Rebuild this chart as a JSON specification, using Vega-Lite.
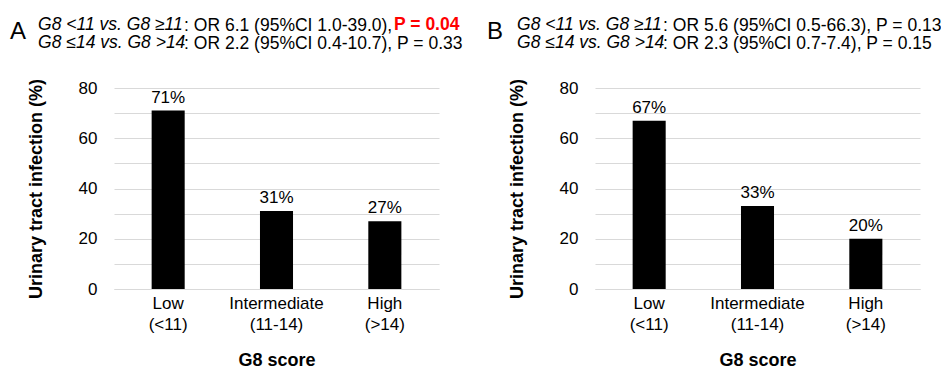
{
  "$schema": "https://vega.github.io/schema/vega-lite/v6.json",
  "padding": {"left": 10, "top": 15, "right": 5, "bottom": 0},
  "background": "white",
  "data": {"values": [
    {"panel": "A", "group": "Low (<11)", "value": 71},
    {"panel": "A", "group": "Intermediate (11-14)", "value": 31},
    {"panel": "A", "group": "High (>14)", "value": 27},
    {"panel": "B", "group": "Low (<11)", "value": 67},
    {"panel": "B", "group": "Intermediate (11-14)", "value": 33},
    {"panel": "B", "group": "High (>14)", "value": 20}
  ]},
  "spacing": 24,
  "hconcat": [
    {
      "title": {"text": "A", "anchor": "start", "frame": "bounds", "fontSize": 24, "fontWeight": "normal", "color": "black", "offset": 0, "dx": -17, "dy": 28},
      "vconcat": [{
        "title": {"text": "P = 0.04", "anchor": "start", "frame": "bounds", "fontSize": 17.5, "fontWeight": "bold", "color": "#ff0000", "offset": 0, "dx": 367, "dy": 17.5},
        "vconcat": [{
          "title": {"text": ": OR 6.1 (95%CI 1.0-39.0),", "subtitle": ": OR 2.2 (95%CI 0.4-10.7), P = 0.33", "anchor": "start", "frame": "bounds", "fontSize": 17.5, "subtitleFontSize": 17.5, "fontWeight": "normal", "fontStyle": "normal", "subtitleFontStyle": "normal", "color": "black", "subtitleColor": "black", "subtitlePadding": 0.5, "offset": 0, "dx": 157, "dy": 36.5},
          "vconcat": [{
            "width": 325, "height": 201,
            "title": {"text": "G8 <11 vs. G8 ≥11", "subtitle": "G8 ≤14 vs. G8 >14", "anchor": "start", "frame": "bounds", "fontSize": 17.5, "subtitleFontSize": 17.5, "fontWeight": "normal", "fontStyle": "italic", "subtitleFontStyle": "italic", "color": "black", "subtitleColor": "black", "subtitlePadding": 0.5, "offset": 27, "dx": 11},
            "transform": [{"filter": "datum.panel === 'A'"}, {"calculate": "datum.value + '%'", "as": "label"}],
            "encoding": {
              "x": {"field": "group", "type": "nominal", "sort": null, "scale": {"paddingInner": 0.695, "paddingOuter": 0.3475},
                "axis": {"title": "G8 score", "labelAngle": 0, "labelExpr": "split(datum.label, ' ')", "labelFontSize": 17, "labelLineHeight": 21, "labelPadding": 6, "labelColor": "black", "ticks": false, "tickSize": 0, "domainColor": "#d9d9d9", "titleFontSize": 18, "titleFontWeight": "bold", "titlePadding": 19, "titleColor": "black"}},
              "y": {"field": "value", "type": "quantitative", "scale": {"domain": [0, 80]},
                "axis": {"title": "Urinary tract infection (%)", "values": [0, 10, 20, 30, 40, 50, 60, 70, 80], "labelExpr": "datum.value % 20 === 0 ? datum.label : ''", "labelFontSize": 17, "labelColor": "black", "labelPadding": 17, "ticks": false, "tickSize": 0, "domain": false, "gridColor": "#d9d9d9", "titleFontSize": 18, "titleFontWeight": "bold", "titleColor": "black", "titlePadding": 33}}
            },
            "layer": [
              {"mark": {"type": "bar", "color": "black"}},
              {"mark": {"type": "text", "dy": -8, "baseline": "alphabetic", "fontSize": 17, "color": "black"}, "encoding": {"text": {"field": "label"}}}
            ]
          }]
        }]
      }]
    },
    {
      "title": {"text": "B", "anchor": "start", "frame": "bounds", "fontSize": 24, "fontWeight": "normal", "color": "black", "offset": 0, "dx": -21, "dy": 28},
      "vconcat": [{
        "title": {"text": ": OR 5.6 (95%CI 0.5-66.3), P = 0.13", "subtitle": ": OR 2.3 (95%CI 0.7-7.4), P = 0.15", "anchor": "start", "frame": "bounds", "fontSize": 17.5, "subtitleFontSize": 17.5, "fontWeight": "normal", "fontStyle": "normal", "subtitleFontStyle": "normal", "color": "black", "subtitleColor": "black", "subtitlePadding": 0.5, "offset": 0, "dx": 155, "dy": 36.5},
        "vconcat": [{
          "width": 325, "height": 201,
          "title": {"text": "G8 <11 vs. G8 ≥11", "subtitle": "G8 ≤14 vs. G8 >14", "anchor": "start", "frame": "bounds", "fontSize": 17.5, "subtitleFontSize": 17.5, "fontWeight": "normal", "fontStyle": "italic", "subtitleFontStyle": "italic", "color": "black", "subtitleColor": "black", "subtitlePadding": 0.5, "offset": 27, "dx": 9},
          "transform": [{"filter": "datum.panel === 'B'"}, {"calculate": "datum.value + '%'", "as": "label"}],
          "encoding": {
            "x": {"field": "group", "type": "nominal", "sort": null, "scale": {"paddingInner": 0.695, "paddingOuter": 0.3475},
              "axis": {"title": "G8 score", "labelAngle": 0, "labelExpr": "split(datum.label, ' ')", "labelFontSize": 17, "labelLineHeight": 21, "labelPadding": 6, "labelColor": "black", "ticks": false, "tickSize": 0, "domainColor": "#d9d9d9", "titleFontSize": 18, "titleFontWeight": "bold", "titlePadding": 19, "titleColor": "black"}},
            "y": {"field": "value", "type": "quantitative", "scale": {"domain": [0, 80]},
              "axis": {"title": "Urinary tract infection (%)", "values": [0, 10, 20, 30, 40, 50, 60, 70, 80], "labelExpr": "datum.value % 20 === 0 ? datum.label : ''", "labelFontSize": 17, "labelColor": "black", "labelPadding": 17, "ticks": false, "tickSize": 0, "domain": false, "gridColor": "#d9d9d9", "titleFontSize": 18, "titleFontWeight": "bold", "titleColor": "black", "titlePadding": 33}}
          },
          "layer": [
            {"mark": {"type": "bar", "color": "black"}},
            {"mark": {"type": "text", "dy": -8, "baseline": "alphabetic", "fontSize": 17, "color": "black"}, "encoding": {"text": {"field": "label"}}}
          ]
        }]
      }]
    }
  ],
  "config": {
    "font": "Liberation Sans",
    "view": {"stroke": null},
    "title": {"font": "Liberation Sans", "subtitleFont": "Liberation Sans"}
  }
}
